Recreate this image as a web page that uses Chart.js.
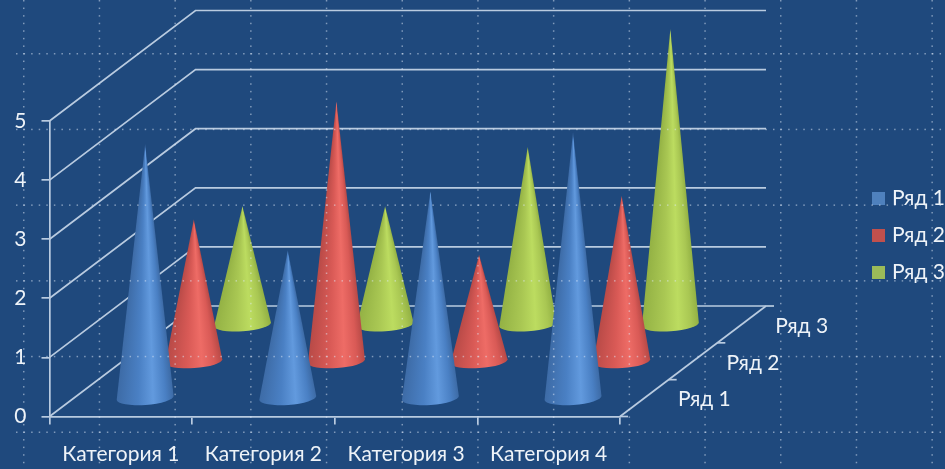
<!DOCTYPE html>
<html>
<head>
<meta charset="utf-8">
<title>Конусная диаграмма</title>
<script src="https://cdn.jsdelivr.net/npm/chart.js@4/dist/chart.umd.min.js"></script>
<style>
html, body { margin: 0; padding: 0; background: #1f497d; overflow: hidden; }
canvas { display: block; }
</style>
</head>
<body>
<canvas id="coneChart" width="945" height="469"></canvas>
<script>
const categories = ['Категория 1', 'Категория 2', 'Категория 3', 'Категория 4'];
const seriesNames = ['Ряд 1', 'Ряд 2', 'Ряд 3'];
const series1 = [4.3, 2.5, 3.5, 4.5];
const series2 = [2.4, 4.4, 1.8, 2.8];
const series3 = [2, 2, 3, 5];

const textColor = '#eef3f8';
const lineColor = '#b9cbe0';
const fontName = 'Lato';
const fontSize = 21;
const depthX = 146;   // how far the back wall is shifted from the front plane
const depthY = 110.5;
const coneRatio = 0.2;
const shades = [
    { legend: '#4f81bd', dark: '#3d6ba6', mid: '#4a80c4', light: '#629ade' },
    { legend: '#c0504d', dark: '#b84a47', mid: '#d95a56', light: '#ee6c66' },
    { legend: '#9bbb59', dark: '#93b144', mid: '#a9c753', light: '#bcdc60' }
];

function line(ctx, x1, y1, x2, y2) {
    ctx.beginPath();
    ctx.moveTo(x1, y1);
    ctx.lineTo(x2, y2);
    ctx.stroke();
}

// walls of the 3D box, taken from the y ticks
function drawWalls(chart) {
    const ctx = chart.ctx, area = chart.chartArea, y = chart.scales.y;
    ctx.save();
    ctx.strokeStyle = lineColor;
    ctx.lineWidth = 1.7;
    y.ticks.forEach(function (t) {
        const py = y.getPixelForValue(t.value);
        ctx.beginPath();
        ctx.moveTo(area.left, py);
        ctx.lineTo(area.left + depthX, py - depthY);
        ctx.lineTo(area.right + depthX, py - depthY);
        ctx.stroke();
    });
    // floor edge on the right with its ticks
    line(ctx, area.right, area.bottom, area.right + depthX, area.bottom - depthY);
    for (let i = 0; i <= seriesNames.length; i++) {
        const f = i / seriesNames.length;
        const fx = area.right + depthX * f, fy = area.bottom - depthY * f;
        line(ctx, fx, fy, fx + 8, fy);
    }
    ctx.fillStyle = textColor;
    ctx.font = fontSize + 'px ' + fontName;
    ctx.textAlign = 'center';
    ctx.textBaseline = 'middle';
    seriesNames.forEach(function (name, i) {
        const f = (i + 0.5) / seriesNames.length;
        ctx.fillText(name, area.right + depthX * f + 60, area.bottom - depthY * f + 1.5);
    });
    ctx.restore();
}

function drawCone(ctx, cx, baseY, tipY, rx, shade) {
    const ry = rx * 0.24, tilt = -0.07;
    const lx = cx - rx * Math.cos(tilt), ly = baseY - rx * Math.sin(tilt);
    const half = Math.atan2(rx, baseY - tipY);
    const span = 2 * half / (Math.PI * 2);
    const grad = ctx.createConicGradient(Math.PI / 2 - half, cx, tipY);
    // offset 0 is the right edge of the cone, span is the left edge
    grad.addColorStop(0, shade.dark);
    grad.addColorStop(span * 0.14, shade.mid);
    grad.addColorStop(span * 0.36, shade.light);
    grad.addColorStop(span * 0.62, shade.mid);
    grad.addColorStop(span, shade.dark);
    grad.addColorStop(Math.min(span + 0.001, 1), shade.dark);
    ctx.fillStyle = grad;
    ctx.beginPath();
    ctx.moveTo(cx, tipY);
    ctx.lineTo(lx, ly);
    ctx.ellipse(cx, baseY, rx, ry, tilt, Math.PI, 0, true);
    ctx.closePath();
    ctx.fill();
}

// dotted guide lines of the slide, they lie over everything
function drawGuides(chart) {
    const ctx = chart.ctx, step = 75.7, dot = step / 10;
    ctx.save();
    ctx.fillStyle = 'rgba(225,236,250,0.5)';
    for (let gx = 23; gx < chart.width; gx += step) {
        for (let d = 0; d < chart.height; d += dot) ctx.fillRect(gx, d, 1.5, 1.5);
    }
    for (let gy = 53; gy < chart.height; gy += step) {
        for (let d = 16; d < chart.width; d += dot) ctx.fillRect(d, gy, 1.5, 1.5);
    }
    ctx.restore();
}

const conePlugin = {
    id: 'cones',
    afterLayout: function (chart) {
        // legend sits at the height of the plot middle, not of the padded box
        const legend = chart.legend;
        legend.top = 172;
        legend.bottom = 172 + legend.height;
        legend.left = 859.5;
        legend.right = 945;
    },
    beforeDatasetsDraw: function (chart) {
        const ctx = chart.ctx, x = chart.scales.x, y = chart.scales.y;
        drawWalls(chart);
        const band = x.width / categories.length;
        // back row first, so the front row covers it
        for (let s = chart.data.datasets.length - 1; s >= 0; s--) {
            const f = (s + 0.5) / seriesNames.length;
            chart.data.datasets[s].data.forEach(function (v, i) {
                const baseY = y.getPixelForValue(0) - depthY * f;
                const tipY = y.getPixelForValue(v) - depthY * f;
                drawCone(ctx, x.getPixelForValue(i) + depthX * f, baseY, tipY, band * coneRatio, shades[s]);
            });
        }
    },
    beforeDatasetDraw: function () {
        return false; // bars are replaced by the cones
    },
    afterDraw: function (chart) {
        drawGuides(chart);
    }
};

new Chart(document.getElementById('coneChart'), {
    type: 'bar',
    data: {
        labels: categories,
        datasets: [
            { label: seriesNames[0], data: series1, backgroundColor: shades[0].legend, pointStyle: 'rect' },
            { label: seriesNames[1], data: series2, backgroundColor: shades[1].legend, pointStyle: 'rect' },
            { label: seriesNames[2], data: series3, backgroundColor: shades[2].legend, pointStyle: 'rect' }
        ]
    },
    options: {
        responsive: false,
        animation: false,
        layout: { padding: { top: 121 } },
        plugins: {
            tooltip: { enabled: false },
            legend: {
                position: 'right',
                align: 'start',
                labels: {
                    usePointStyle: true,
                    boxWidth: 6,   // square is wider than this, keeps the text close to it
                    boxHeight: 13,
                    padding: 16,
                    color: textColor,
                    font: { family: fontName, size: fontSize }
                }
            }
        },
        scales: {
            x: {
                grid: { drawOnChartArea: false, color: lineColor, lineWidth: 1.7, tickLength: 8, offset: true },
                border: { color: lineColor, width: 1.7 },
                ticks: { color: textColor, font: { family: fontName, size: fontSize }, maxRotation: 0, autoSkip: false, padding: 17 },
                afterFit: function (s) { s.height = 52.5; }
            },
            y: {
                min: 0,
                max: 5,
                grid: { drawOnChartArea: false, color: lineColor, lineWidth: 1.7, tickLength: 8 },
                border: { color: lineColor, width: 1.7 },
                ticks: { stepSize: 1, color: textColor, font: { family: fontName, size: fontSize }, padding: 15 },
                afterFit: function (s) { s.width = 49.5; }
            },
            depth: {
                type: 'category',
                labels: seriesNames,
                position: 'right',
                offset: true,
                grid: { display: false },
                border: { display: false },
                ticks: { display: false },
                afterFit: function (s) { s.width = 325 - s.chart.legend.width; }
            }
        }
    },
    plugins: [conePlugin]
});
</script>
</body>
</html>
